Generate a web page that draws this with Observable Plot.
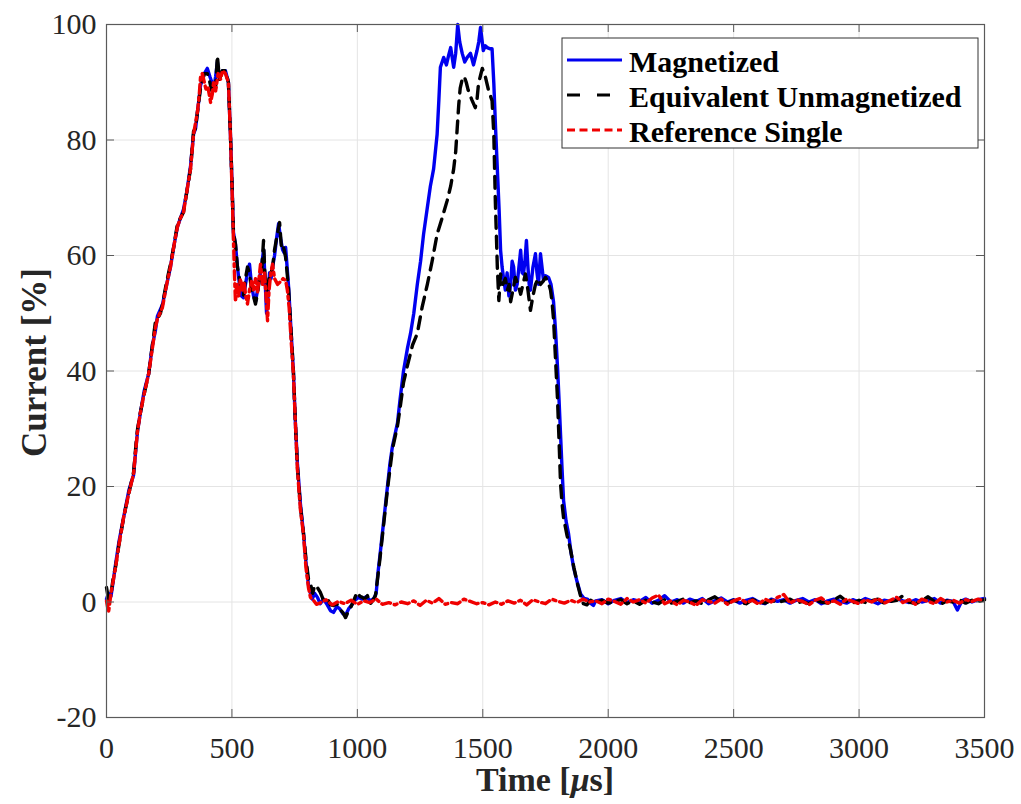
<!DOCTYPE html>
<html>
<head>
<meta charset="utf-8">
<script src="https://cdn.jsdelivr.net/npm/d3@7"></script>
<script src="https://cdn.jsdelivr.net/npm/@observablehq/plot@0.6"></script>
<style>
  html, body { margin: 0; padding: 0; background: #fff; }
  svg { display: block; }
</style>
</head>
<body>
<div id="chart"></div>
<script>
// ---------- DATA (time in µs, current in %) ----------
const xTicks = [0, 500, 1000, 1500, 2000, 2500, 3000, 3500];
const yTicks = [-20, 0, 20, 40, 60, 80, 100];
const seriesNames = ["Magnetized", "Equivalent Unmagnetized", "Reference Single"];
const xLabel = "Time [μs]";
const yLabel = "Current [%]";

const magnetized = [
  [0,0.5],[8,1.5],[18,1],[28,4],[36,6.5],[50,10.5],[68,14.6],[90,19.5],[108,22],[118,27],[124,29.7],[136,33],[150,36.5],[168,39.5],[183,44.5],[195,47],[203,49.5],[223,51.5],[240,55],[255,58],[270,62],[283,65],[295,66.5],[307,68],[320,71],[335,75.5],[347,81],[355,82],[363,85],[375,89.5],[390,91.5],[402,92.4],[412,91],[420,90],[428,89],[435,91],[442,93.5],[450,90.5],[462,92],[474,92],[486,90],[494,81],[500,73],[506,64],[514,62],[522,58],[530,55],[538,53],[546,52.7],[554,55],[562,57],[570,58.5],[578,55],[586,53],[594,52],[602,54],[610,56],[618,58],[626,61],[632,56],[638,50],[644,53],[650,57],[656,56],[662,58],[670,60],[678,63],[686,65.5],[694,63],[702,61],[708,60.5],[714,61.4],[720,58],[726,54.5],[733,49],[745,40],[753,31],[761,24],[773,17],[785,12],[795,7],[805,3],[813,1.5],[820,0.5],[830,1.5],[841,0.8],[852,-0.3],[865,0.5],[880,-0.5],[893,-1.5],[905,-1.8],[918,-0.8],[930,-1.2],[942,-2.0],[953,-2.3],[965,-1.2],[978,-0.5],[990,0.3],[1005,0.8],[1020,0.5],[1035,0.9],[1052,0.2],[1066,0.6],[1075,1.5],
  [1082,5],[1090,8],[1100,12],[1110,16],[1120,20],[1130,24],[1140,27],[1150,29],[1160,31],[1170,35],[1184,40],[1200,44],[1212,46.5],[1225,50],[1239,55],[1252,59],[1264,63.7],[1278,68],[1291,72],[1304,75],[1318,81],[1325,87],[1331,92.6],[1344,94.3],[1355,93],[1364,94.7],[1372,96],[1384,92.6],[1392,95],[1400,100],[1408,97],[1418,95],[1428,93.5],[1438,94.3],[1451,95],[1463,93],[1477,95.5],[1484,97],[1491,99.5],[1502,95.5],[1510,96.3],[1518,96],[1528,95.8],[1537,95.8],[1544,89.8],[1551,82],[1558,75],[1565,68],[1571,60.9],[1577,58],[1583,56],[1590,54],[1597,57],[1604,53],[1611,55],[1617,59],[1623,58],[1630,54],[1637,55],[1644,58],[1651,60.9],[1657,57],[1662,56.8],[1668,59],[1674,62.6],[1680,58],[1685,55],[1690,54],[1700,58],[1710,60.3],[1716,57],[1722,55],[1730,60.3],[1736,58],[1742,55.7],[1750,56.5],[1762,56.2],[1772,55],[1782,52],[1790,47],[1798,40.6],[1804,35],[1810,29],[1816,23],[1822,17.6],[1832,14],[1842,11.8],[1852,8.5],[1862,6],[1876,3.5],[1890,1.4],[1904,0.6],[1917,0.5],[1929,-0.2],[1941,-0.6],[1950,0.2],
  [1975,0.4],[2000,-0.3],[2025,0.3],[2050,0.6],[2075,-0.1],[2100,0.4],[2125,0.1],[2150,0.8],[2175,-0.2],[2200,0.3],[2225,1.1],[2250,0.0],[2275,0.4],[2300,-0.2],[2325,0.5],[2350,0.1],[2375,0.6],[2400,-0.3],[2425,0.2],[2450,0.7],[2475,0.0],[2500,0.4],[2525,-0.2],[2550,0.3],[2575,0.6],[2600,0.0],[2625,-0.3],[2650,0.5],[2675,0.1],[2700,0.4],[2725,-0.2],[2750,0.3],[2775,0.6],[2800,0.0],[2825,0.4],[2850,-0.3],[2875,0.2],[2900,0.5],[2925,0.1],[2950,-0.2],[2975,0.4],[3000,0.0],[3025,0.6],[3050,0.2],[3075,-0.3],[3100,0.3],[3125,0.1],[3150,0.6],[3175,0.2],[3200,-0.1],[3225,0.4],[3250,0.0],[3275,0.3],[3300,0.6],[3325,-0.2],[3350,0.3],[3375,0.1],[3392,-1.4],[3410,0.2],[3425,0.5],[3450,0.0],[3475,0.4],[3500,0.6]
];

const unmagnetized = [
  [0,2.5],[8,0.5],[18,1.5],[28,4.5],[36,6],[50,10],[68,14.6],[90,19],[108,22.5],[118,27.5],[124,30],[136,33],[150,36],[168,39.5],[183,44.5],[195,48.5],[203,49],[215,50],[223,51.5],[240,55.5],[255,58.5],[270,62],[283,65.5],[295,66.5],[307,67.5],[320,71],[335,75],[347,81.5],[355,82],[363,85],[375,89],[390,91.5],[402,91.5],[412,90],[420,88.5],[428,90],[435,89],[442,94.6],[450,90.5],[462,92],[474,92],[486,90],[494,81],[500,73],[506,64],[514,62],[522,58],[530,56],[538,54],[546,53],[554,56],[562,58],[570,57],[578,54],[586,53],[594,51.6],[602,53.5],[610,56],[618,57],[626,62.6],[632,56],[640,54],[648,56],[656,57],[662,58],[670,61],[678,63],[690,65.7],[698,61],[706,61.4],[714,59.7],[720,57],[726,54],[733,49],[745,40],[753,31],[761,23.5],[773,16.5],[785,12],[795,7.5],[805,4],[813,3.2],[822,1.5],[830,2.9],[841,2.5],[852,1.7],[865,0.3],[880,0.6],[893,-0.5],[905,-0.6],[918,-0.3],[930,-1.3],[942,-1.8],[953,-2.7],[965,-1.5],[972,-1.1],[985,0.2],[999,1.7],[1010,1.0],[1020,0.8],[1030,0.5],[1040,1.1],[1052,-0.3],[1062,0.3],[1072,1.1],
  [1082,4.5],[1090,7.5],[1100,11.5],[1110,15.5],[1120,19.5],[1130,23],[1140,26.5],[1150,28.5],[1160,30.5],[1170,33.5],[1184,38],[1200,41],[1220,44.5],[1239,46.5],[1258,51],[1279,55],[1298,59],[1318,63.7],[1338,66.5],[1358,69.5],[1372,72],[1384,75],[1392,78],[1398,82],[1404,86],[1410,89],[1418,90.5],[1426,91],[1434,90],[1442,88.6],[1456,87],[1470,85.6],[1477,87],[1483,89.8],[1490,91],[1498,92.4],[1510,91],[1523,88.6],[1537,86.8],[1544,81],[1550,69.5],[1558,58],[1564,52.2],[1571,56.8],[1580,55],[1590,56],[1598,54],[1605,55],[1611,52],[1620,54],[1630,56.2],[1640,55],[1651,53.3],[1660,55],[1670,56.8],[1680,54],[1690,50.5],[1700,53],[1710,55],[1720,56],[1730,55],[1740,55.5],[1750,56.2],[1760,55.5],[1770,54],[1776,52],[1782,49],[1790,42],[1798,35],[1804,28],[1810,20.5],[1816,17],[1822,14.6],[1836,11.5],[1850,9],[1863,6],[1877,3.2],[1890,1],[1901,-0.3],[1915,-0.5],[1930,0.3],[1950,-0.2],
  [1975,0.3],[2000,-0.2],[2025,0.1],[2050,0.4],[2075,-0.3],[2100,0.2],[2125,-0.4],[2150,0.3],[2175,0.0],[2200,-0.3],[2225,0.4],[2250,-0.2],[2275,0.1],[2300,0.5],[2325,-0.1],[2350,0.2],[2375,-0.3],[2400,0.4],[2425,0.9],[2450,0.1],[2475,-0.2],[2500,0.3],[2525,0.0],[2550,-0.3],[2575,0.4],[2600,0.1],[2625,-0.2],[2650,0.3],[2675,-0.1],[2700,0.2],[2725,0.5],[2750,-0.2],[2775,0.1],[2800,-0.3],[2825,0.3],[2850,0.0],[2875,-0.2],[2900,0.4],[2925,1.0],[2950,0.1],[2975,-0.2],[3000,0.3],[3025,-0.1],[3050,0.2],[3075,0.5],[3100,-0.2],[3125,0.1],[3150,0.3],[3175,1.1],[3200,0.0],[3225,-0.3],[3250,0.2],[3275,0.9],[3300,0.1],[3325,-0.4],[3350,0.2],[3375,0.0],[3400,0.4],[3425,-0.2],[3450,0.3],[3475,0.1],[3500,0.4]
];

const referenceSingle = [
  [0,0.2],[8,-1.8],[18,1.5],[28,4],[36,6],[50,10],[68,14.6],[90,19],[108,22.2],[118,27],[124,29.7],[136,33],[150,36],[168,39.5],[183,44],[195,47.5],[203,49],[223,51],[240,55],[255,58],[270,62],[283,65],[295,66.5],[307,67.5],[320,71],[335,75],[347,81],[355,83],[363,85],[370,88],[375,91],[382,91.5],[390,90],[398,88.5],[405,89],[415,86.5],[422,88],[427,90],[435,88.5],[445,91.5],[455,90.5],[462,92],[474,91.5],[486,90],[494,81],[500,72],[506,63],[510,57],[514,52],[520,55],[527,53],[534,56],[541,54],[548,55.5],[555,53],[562,51.6],[570,54],[578,55.5],[586,54],[594,56],[602,53.5],[614,58.5],[622,55],[630,57],[636,53],[642,48.7],[648,54],[655,57],[662,58.5],[670,56],[682,55],[694,55.5],[704,56],[714,55.7],[721,54],[728,51],[735,46],[745,39.5],[753,31],[761,23],[773,16],[785,11.8],[795,6],[805,2.5],[813,0.8],[825,0.3],[837,-0.4],
  [850,-0.2],[875,0.4],[900,-0.5],[925,0.1],[950,-0.3],[975,0.3],[1000,-0.4],[1025,0.2],[1050,-0.1],[1075,0.5],[1100,-0.4],[1125,-0.1],[1150,-0.5],[1175,0.0],[1200,-0.3],[1225,0.2],[1250,-0.6],[1275,0.3],[1300,-0.2],[1325,0.6],[1350,-0.4],[1375,-0.1],[1400,-0.3],[1425,0.5],[1450,0.1],[1475,-0.3],[1500,-0.1],[1525,-0.5],[1550,0.0],[1575,-0.4],[1600,0.2],[1625,-0.2],[1650,0.3],[1675,-0.5],[1700,0.4],[1725,0.0],[1750,-0.3],[1775,0.5],[1800,0.1],[1825,-0.2],[1850,0.3],[1875,-0.1],[1900,0.5],[1925,0.0],[1950,0.2],
  [1975,-0.3],[2000,0.5],[2025,0.1],[2050,-0.4],[2075,0.6],[2100,0.0],[2125,0.4],[2150,-0.2],[2175,0.7],[2200,1.2],[2225,-0.3],[2250,0.2],[2275,-0.5],[2300,0.3],[2325,0.0],[2350,-0.6],[2375,0.4],[2400,0.1],[2425,-0.2],[2450,0.5],[2475,-0.4],[2500,0.2],[2525,0.6],[2550,-0.1],[2575,0.3],[2600,-0.4],[2625,0.5],[2650,0.0],[2675,0.8],[2700,1.3],[2725,-0.2],[2750,0.4],[2775,0.1],[2800,-0.5],[2825,0.3],[2850,0.7],[2875,-0.2],[2900,0.2],[2925,-0.4],[2950,0.5],[2975,0.1],[3000,-0.3],[3025,0.4],[3050,0.0],[3075,0.6],[3100,-0.2],[3125,0.3],[3150,0.8],[3175,-0.1],[3200,0.4],[3225,-0.4],[3250,0.5],[3275,0.1],[3300,-0.3],[3325,0.6],[3350,0.0],[3375,0.3],[3400,-0.2],[3425,0.4],[3450,0.1],[3475,0.5],[3500,0.2]
];

// ---------- STYLE ----------
const W = 1021, H = 804;
const mL = 106, mR = 37, mT = 24, mB = 87;
const plotW = W - mL - mR, plotH = H - mT - mB;
const tick = 8;
const axisColor = "#5a5a5a";
const gridColor = "#e4e4e4";
const styles = [
  {stroke: "#0000f0", strokeWidth: 3.4, dash: null, legendDash: null},
  {stroke: "#000000", strokeWidth: 3.4, dash: "12,8", legendDash: "13,17"},
  {stroke: "#f00000", strokeWidth: 3.4, dash: "9,4,3,4", legendDash: "8,4.5"}
];
const seriesData = [magnetized, unmagnetized, referenceSingle];
const serif = "'Liberation Serif', 'Times New Roman', serif";
const fmt = d => String(d);

const chart = Plot.plot({
  width: W, height: H,
  marginLeft: mL, marginRight: mR, marginTop: mT, marginBottom: mB,
  x: {domain: [0, 3500], label: null},
  y: {domain: [-20, 100], label: null},
  style: {fontFamily: serif, fontSize: "30px", color: "#262626", background: "#fff", overflow: "visible"},
  marks: [
    Plot.gridX(xTicks, {stroke: gridColor, strokeOpacity: 1}),
    Plot.gridY(yTicks, {stroke: gridColor, strokeOpacity: 1}),
    ...seriesData.map((data, i) => Plot.line(data, {
      x: d => d[0], y: d => d[1],
      stroke: styles[i].stroke, strokeWidth: styles[i].strokeWidth,
      strokeDasharray: styles[i].dash, strokeLinejoin: "round"
    })),
    // inward ticks on all four sides
    Plot.ruleX(xTicks, {insetTop: plotH - tick, stroke: axisColor}),
    Plot.ruleX(xTicks, {insetBottom: plotH - tick, stroke: axisColor}),
    Plot.ruleY(yTicks, {insetRight: plotW - tick, stroke: axisColor}),
    Plot.ruleY(yTicks, {insetLeft: plotW - tick, stroke: axisColor}),
    Plot.frame({stroke: axisColor, strokeWidth: 1.2}),
    Plot.axisX(xTicks, {tickSize: 0, tickPadding: 19, tickFormat: fmt, fontSize: 30, fill: "#262626"}),
    Plot.axisY(yTicks, {tickSize: 0, tickPadding: 10, tickFormat: fmt, fontSize: 30, fill: "#262626"})
  ]
});

document.getElementById("chart").appendChild(chart);

// ---------- AXIS LABELS & LEGEND ----------
const svg = d3.select(chart);

const xl = svg.append("text")
  .attr("x", mL + plotW / 2).attr("y", H - 13)
  .attr("text-anchor", "middle")
  .attr("font-family", serif).attr("font-weight", "bold").attr("font-size", 34)
  .attr("fill", "#262626");
const muIdx = xLabel.indexOf("μ");
xl.append("tspan").text(xLabel.slice(0, muIdx));
xl.append("tspan").attr("font-style", "italic").text("μ");
xl.append("tspan").text(xLabel.slice(muIdx + 1));

svg.append("text")
  .attr("transform", `translate(46,${mT + plotH / 2 - 8}) rotate(-90)`)
  .attr("text-anchor", "middle")
  .attr("font-family", serif).attr("font-weight", "bold").attr("font-size", 35)
  .attr("fill", "#262626")
  .text(yLabel);

const lg = svg.append("g");
const lgX = 562, lgY = 38, lgW = 416, lgH = 110;
lg.append("rect").attr("x", lgX).attr("y", lgY).attr("width", lgW).attr("height", lgH)
  .attr("fill", "#fff").attr("stroke", "#333").attr("stroke-width", 1);
seriesNames.forEach((name, i) => {
  const base = lgY + 34 + i * 35;
  lg.append("line")
    .attr("x1", lgX + 5).attr("x2", lgX + 60)
    .attr("y1", base - 12).attr("y2", base - 12)
    .attr("stroke", styles[i].stroke).attr("stroke-width", 3)
    .attr("stroke-dasharray", styles[i].legendDash);
  lg.append("text")
    .attr("x", lgX + 67).attr("y", base)
    .attr("text-anchor", "start")
    .attr("font-family", serif).attr("font-weight", "bold").attr("font-size", 30)
    .attr("fill", "#000")
    .text(name);
});
</script>
</body>
</html>
